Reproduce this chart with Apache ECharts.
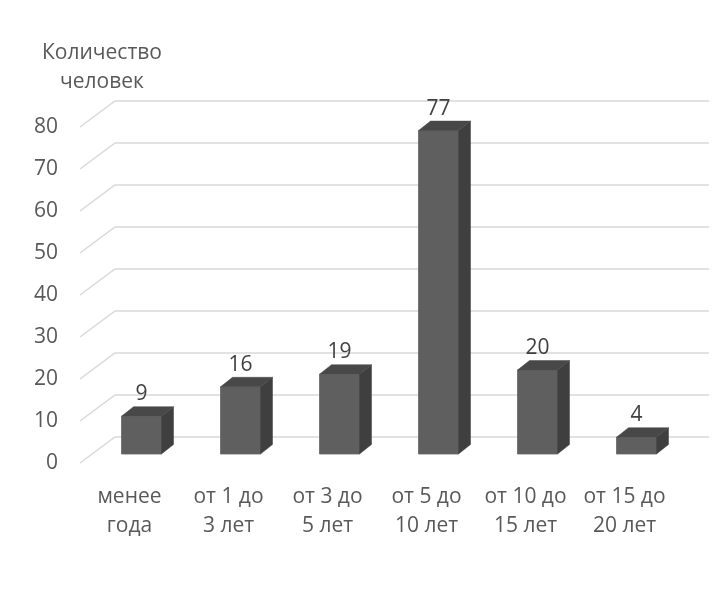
<!DOCTYPE html>
<html>
<head>
<meta charset="utf-8">
<script src="https://cdn.jsdelivr.net/npm/echarts@6/dist/echarts.min.js"></script>
<style>html,body{margin:0;padding:0;background:#fff}#c{width:723px;height:602px}</style>
</head>
<body>
<div id="c"></div>
<script>
const categories = ['менее\nгода', 'от 1 до\n3 лет', 'от 3 до\n5 лет', 'от 5 до\n10 лет', 'от 10 до\n15 лет', 'от 15 до\n20 лет'];
const values = [9, 16, 19, 77, 20, 4];
const yTicks = [0, 10, 20, 30, 40, 50, 60, 70, 80];
const yTitle = 'Количество\nчеловек';

const FONT = '"Open Sans", "Noto Sans", sans-serif';
const FS = 21;
const DEPTH_X = 35, DEPTH_Y = -26;      // floor depth (front plane -> back wall)
const BAR_OFF_X = 12, BAR_OFF_Y = -9;   // bar front face offset from front plane
const BAR_DX = 12, BAR_DY = -9.5;       // bar depth
const BAR_RATIO = 40 / 99;

const chart = echarts.init(document.getElementById('c'), null, {renderer: 'canvas'});

chart.setOption({
  animation: false,
  backgroundColor: '#ffffff',
  textStyle: {fontFamily: FONT},
  grid: {left: 80, top: 127, width: 594, height: 336, containLabel: false},
  graphic: [{
    type: 'text', x: 102, y: 67.5,
    style: {text: yTitle, textAlign: 'center', textVerticalAlign: 'middle',
      font: FS + 'px ' + FONT, lineHeight: 29, fill: '#595959'}
  }],
  xAxis: {
    type: 'category', data: categories,
    axisLine: {show: false}, axisTick: {show: false},
    axisLabel: {fontSize: FS, lineHeight: 29, color: '#595959', margin: 20, interval: 0, fontFamily: FONT}
  },
  yAxis: {
    type: 'value', min: 0, max: 80, interval: 10,
    axisLine: {show: false}, axisTick: {show: false}, splitLine: {show: false},
    axisLabel: {fontSize: FS, color: '#595959', margin: 22, fontFamily: FONT}
  },
  series: [
    {
      type: 'custom', z: 1, silent: true, clip: false,
      data: yTicks.map(v => [0, v]),
      renderItem: function (params, api) {
        const cs = params.coordSys;
        const y = api.coord([0, api.value(1)])[1];
        const x0 = cs.x;
        return {
          type: 'polyline',
          shape: {points: [[x0, y], [x0 + DEPTH_X, y + DEPTH_Y], [x0 + cs.width + DEPTH_X, y + DEPTH_Y]]},
          style: {stroke: '#d9d9d9', lineWidth: 1.5, fill: null}
        };
      }
    },
    {
      type: 'custom', z: 2, clip: false,
      data: values.map((v, i) => [i, v]),
      renderItem: function (params, api) {
        const i = api.value(0), v = api.value(1);
        const base = api.coord([i, 0]);
        const top = api.coord([i, v]);
        const w = api.size([1, 0])[0] * BAR_RATIO;
        const cx = base[0] + BAR_OFF_X;
        const xl = cx - w / 2, xr = cx + w / 2;
        const yb = base[1] + BAR_OFF_Y, yt = top[1] + BAR_OFF_Y;
        return {
          type: 'group',
          children: [
            {type: 'polygon', shape: {points: [[xl, yb], [xr, yb], [xr, yt], [xl, yt]]},
              style: {fill: '#5f5f5f', stroke: '#666666', lineWidth: 0.8}},
            {type: 'polygon', shape: {points: [[xr, yb], [xr + BAR_DX, yb + BAR_DY], [xr + BAR_DX, yt + BAR_DY], [xr, yt]]},
              style: {fill: '#3f3f3f', stroke: '#3f3f3f', lineWidth: 0.5}},
            {type: 'polygon', shape: {points: [[xl, yt], [xr, yt], [xr + BAR_DX, yt + BAR_DY], [xl + BAR_DX, yt + BAR_DY]]},
              style: {fill: '#484848', stroke: '#484848', lineWidth: 0.5}},
            {type: 'text', x: cx, y: yt - 22,
              style: {text: String(v), textAlign: 'center', textVerticalAlign: 'middle',
                font: FS + 'px ' + FONT, fill: '#404040'}}
          ]
        };
      }
    }
  ]
});
</script>
</body>
</html>
